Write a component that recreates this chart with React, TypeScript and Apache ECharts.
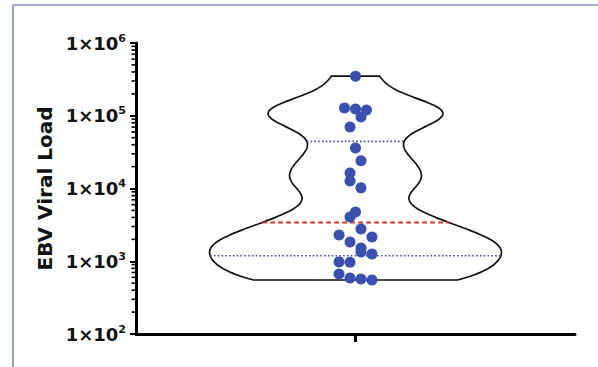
import React, { useEffect, useRef } from "react";
import * as echarts from "echarts";

// EBV viral load of each patient (copies)
const viralLoad = [
  350000, 128000, 124000, 120000, 96000, 70000, 36000, 24000, 16300, 12700,
  10200, 4750, 4050, 2770, 2300, 2150, 1840, 1520, 1340, 1260, 980, 970, 668,
  589, 570, 552,
];
// horizontal swarm slot of each dot (beeswarm arrangement)
const swarmSlot = [
  0, -2, 0, 2, 1, -1, 0, 1, -1, -1, 1, 0, -1, 1, -3, 3, -1, 1, 1, 3, -3, -1, -3,
  -1, 1, 3,
];
const yTickExponents = [2, 3, 4, 5, 6];
const axisTitle = "EBV Viral Load";

const FONT = "'DejaVu Sans', 'Liberation Sans', Arial, sans-serif";
const SLOT = 0.025;
const MAX_HALF = 0.665;
const BANDWIDTH = 0.2;

function percentile(sorted: number[], p: number) {
  const n = sorted.length;
  const pos = p * (n + 1);
  const lo = Math.floor(pos);
  const frac = pos - lo;
  if (lo < 1) return sorted[0];
  if (lo >= n) return sorted[n - 1];
  return sorted[lo - 1] + frac * (sorted[lo] - sorted[lo - 1]);
}

export default function App() {
  const ref = useRef<HTMLDivElement>(null);
  useEffect(() => {
    if (!ref.current) return;
    const chart = echarts.init(ref.current, null, { renderer: "svg" });
    const sorted = [...viralLoad].sort((a, b) => a - b);
    const median = percentile(sorted, 0.5);
    const q1 = percentile(sorted, 0.25);
    const q3 = percentile(sorted, 0.75);
    const logs = viralLoad.map((v) => Math.log10(v));
    const tMin = Math.min(...logs);
    const tMax = Math.max(...logs);
    const density = (t: number) =>
      logs.reduce((s, x) => s + Math.exp(-0.5 * ((t - x) / BANDWIDTH) ** 2), 0);
    const N = 160;
    const ts: number[] = [];
    for (let i = 0; i <= N; i++) ts.push(tMin + ((tMax - tMin) * i) / N);
    const fmax = Math.max(...ts.map(density));
    const half = (t: number) => (MAX_HALF * density(t)) / fmax;

    const minorVals: number[][] = [];
    for (let e = yTickExponents[0]; e < yTickExponents[yTickExponents.length - 1]; e++) {
      for (let m = 2; m <= 9; m++) minorVals.push([-1, m * Math.pow(10, e)]);
    }

    const option: any = {
      animation: false,
      backgroundColor: "#fff",
      grid: { left: 136, right: 23, top: 43, bottom: 33, containLabel: false, outerBoundsMode: "none" },
      graphic: [
        { type: "line", silent: true, shape: { x1: 13, y1: 5, x2: 598, y2: 5 }, style: { stroke: "#4a5fae", lineWidth: 1.2 } },
        { type: "line", silent: true, shape: { x1: 13, y1: 5, x2: 13, y2: 367 }, style: { stroke: "#4a5fae", lineWidth: 1.2 } },
      ],
      xAxis: [
        { type: "value", min: -1, max: 1, show: false, axisLine: { onZero: false } },
        {
          type: "category",
          data: [""],
          position: "bottom",
          axisLine: { show: true, onZero: false, lineStyle: { color: "#000", width: 3 } },
          axisTick: { show: true, alignWithLabel: true, length: 8, lineStyle: { color: "#000", width: 3 } },
          axisLabel: { show: false },
          splitLine: { show: false },
        },
      ],
      yAxis: {
        type: "log",
        logBase: 10,
        position: "left",
        min: Math.pow(10, yTickExponents[0]),
        max: Math.pow(10, yTickExponents[yTickExponents.length - 1]),
        axisLine: { show: true, onZero: false, lineStyle: { color: "#000", width: 3 } },
        axisTick: { show: true, length: 6, lineStyle: { color: "#000", width: 2 } },
        splitLine: { show: false },
        axisLabel: {
          margin: 10,
          formatter: (v: number) => `{a|1×10}{b|${Math.round(Math.log10(v))}}`,
          rich: {
            a: { fontFamily: FONT, fontWeight: "bold", fontSize: 18, lineHeight: 21, color: "#111" },
            b: { fontFamily: FONT, fontWeight: "bold", fontSize: 11, lineHeight: 11, color: "#111", verticalAlign: "top" },
          },
        },
        name: axisTitle,
        nameLocation: "middle",
        nameRotate: 90,
        nameGap: 67,
        nameTextStyle: { fontFamily: FONT, fontWeight: "bold", fontSize: 20, color: "#111" },
      },
      series: [
        {
          type: "custom",
          xAxisIndex: 0,
          clip: false,
          silent: true,
          data: minorVals,
          renderItem: (params: any, api: any) => {
            const p = api.coord([api.value(0), api.value(1)]);
            return {
              type: "line",
              shape: { x1: p[0] - 4.5, y1: p[1], x2: p[0], y2: p[1] },
              style: { stroke: "#000", lineWidth: 1.6 },
            };
          },
        },
        {
          type: "custom",
          xAxisIndex: 0,
          clip: false,
          silent: true,
          data: [[0, median]],
          renderItem: (params: any, api: any) => {
            const right: number[][] = [];
            const left: number[][] = [];
            ts.forEach((t) => {
              const v = Math.pow(10, t);
              const w = half(t);
              right.push(api.coord([w, v]));
              left.push(api.coord([-w, v]));
            });
            const points = right.concat(left.reverse());
            const hline = (val: number, style: any) => {
              const w = half(Math.log10(val));
              const a = api.coord([-w, val]);
              const b = api.coord([w, val]);
              return { type: "line", shape: { x1: a[0], y1: a[1], x2: b[0], y2: b[1] }, style };
            };
            return {
              type: "group",
              children: [
                { type: "polygon", shape: { points }, style: { fill: "none", stroke: "#111", lineWidth: 1.7 } },
                hline(q1, { stroke: "#3a4fae", lineWidth: 1.6, lineDash: [1.6, 2.2] }),
                hline(q3, { stroke: "#3a4fae", lineWidth: 1.6, lineDash: [1.6, 2.2] }),
                hline(median, { stroke: "#d03a3a", lineWidth: 2, lineDash: [5, 3] }),
              ],
            };
          },
        },
        {
          type: "scatter",
          xAxisIndex: 0,
          symbol: "circle",
          symbolSize: 11,
          itemStyle: { color: "#3a4fae", opacity: 1 },
          data: viralLoad.map((v, i) => [swarmSlot[i] * SLOT, v]),
        },
      ],
    };
    chart.setOption(option);
    return () => chart.dispose();
  }, []);
  return (
    <div
      ref={ref}
      style={{ position: "fixed", left: 0, top: 0, width: 598, height: 367, background: "#fff" }}
    />
  );
}
